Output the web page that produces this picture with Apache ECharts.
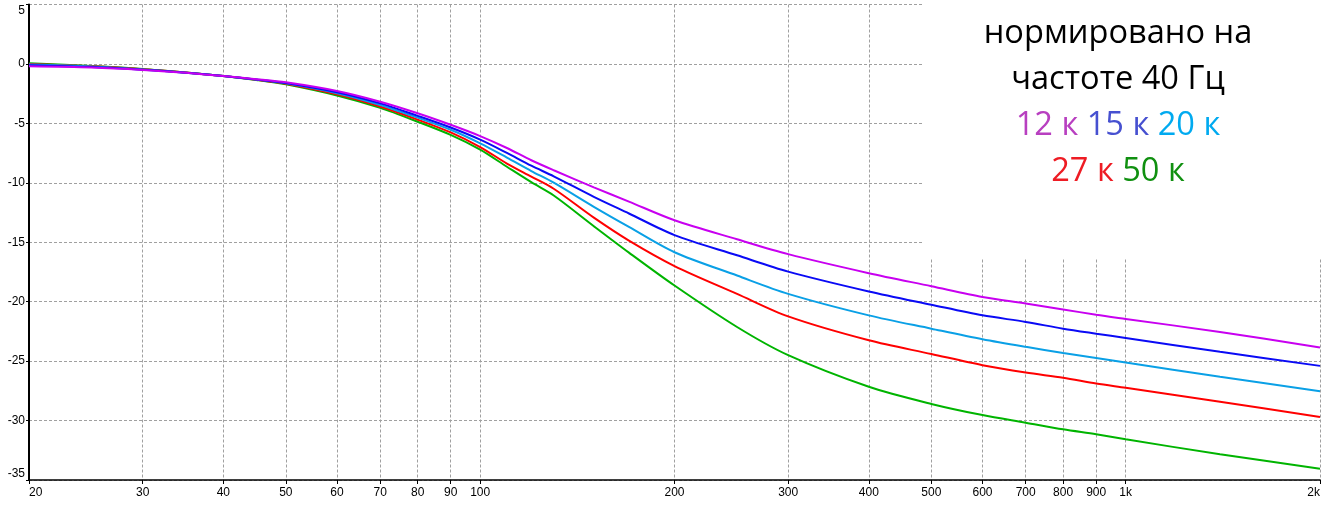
<!DOCTYPE html>
<html><head><meta charset="utf-8">
<script src="https://cdn.jsdelivr.net/npm/echarts@6/dist/echarts.min.js"></script>
<style>html,body{margin:0;padding:0;background:#fff}#c{width:1323px;height:506px}</style>
</head><body><div id="c"></div>
<script>
const freqs = [20, 25, 30, 35, 40, 45, 50, 60, 70, 80, 90, 100, 110, 120, 130, 150, 170, 200, 250, 300, 400, 500, 600, 700, 800, 900, 1000, 1400, 2000];
const s12k = [-0.2, -0.3, -0.5, -0.75, -1.02, -1.28, -1.55, -2.28, -3.18, -4.15, -5.12, -6.07, -7.07, -8.1, -8.94, -10.38, -11.58, -13.15, -14.75, -16.0, -17.6, -18.7, -19.6, -20.15, -20.65, -21.1, -21.45, -22.55, -23.85];
const s15k = [-0.1, -0.25, -0.48, -0.74, -1.02, -1.3, -1.6, -2.38, -3.32, -4.37, -5.35, -6.37, -7.49, -8.56, -9.45, -11.18, -12.58, -14.4, -16.1, -17.47, -19.14, -20.26, -21.15, -21.7, -22.27, -22.69, -23.05, -24.22, -25.4];
const s20k = [-0.05, -0.22, -0.47, -0.74, -1.02, -1.32, -1.63, -2.46, -3.45, -4.52, -5.54, -6.68, -7.88, -9.01, -9.99, -12.02, -13.71, -15.84, -17.8, -19.34, -21.15, -22.27, -23.16, -23.8, -24.31, -24.73, -25.12, -26.32, -27.53];
const s27k = [0.0, -0.2, -0.45, -0.73, -1.02, -1.33, -1.66, -2.55, -3.58, -4.68, -5.76, -6.99, -8.38, -9.48, -10.5, -12.93, -14.86, -17.0, -19.34, -21.24, -23.25, -24.4, -25.34, -25.96, -26.4, -26.88, -27.24, -28.42, -29.7];
const s50k = [0.05, -0.18, -0.42, -0.72, -1.02, -1.35, -1.72, -2.66, -3.7, -4.86, -5.97, -7.21, -8.65, -9.95, -11.07, -13.65, -15.87, -18.64, -22.13, -24.5, -27.16, -28.6, -29.54, -30.18, -30.74, -31.16, -31.58, -32.83, -34.05];
const xTickValues = [20, 30, 40, 50, 60, 70, 80, 90, 100, 200, 300, 400, 500, 600, 700, 800, 900, 1000, 2000];
const xTickLabels = ['20', '30', '40', '50', '60', '70', '80', '90', '100', '200', '300', '400', '500', '600', '700', '800', '900', '1k', '2k'];
const seriesNames = ['50 к', '27 к', '20 к', '15 к', '12 к'];
const seriesData = [s50k, s27k, s20k, s15k, s12k];
const seriesColors = ['#00B400', '#FF0000', '#0AA0E6', '#0A0AF5', '#C800F0'];

const chart = echarts.init(document.getElementById('c'), null, {renderer: 'canvas'});
const axisFont = 'Liberation Sans';
const gridStyle = {color: '#A0A0A0', width: 1, type: [3, 2]};
const richColor = (c) => ({fill: c, fontFamily: 'Open Sans', fontSize: 32.6, lineHeight: 46});
const option = {
  animation: false,
  backgroundColor: '#fff',
  grid: {left: 29, right: 1, top: 4.5, bottom: 26, containLabel: false},
  xAxis: {
    type: 'log', logBase: 10, min: 20, max: 2000,
    axisLine: {show: true, onZero: false, lineStyle: {color: '#000', width: 1.5}},
    axisTick: {show: true, length: 4, customValues: xTickValues, lineStyle: {color: '#000', width: 1}},
    axisLabel: {
      customValues: xTickValues,
      formatter: function (v) { const i = xTickValues.findIndex(t => Math.abs(t - v) < 1e-6 * t); return i >= 0 ? xTickLabels[i] : ''; },
      fontFamily: axisFont, fontSize: 12, color: '#000', margin: 7,
      alignMinLabel: 'left', alignMaxLabel: 'right'
    },
    splitLine: {show: true, lineStyle: gridStyle},
    minorTick: {show: false}, minorSplitLine: {show: false}
  },
  yAxis: {
    type: 'value', min: -35, max: 5, interval: 5,
    axisLine: {show: true, onZero: false, lineStyle: {color: '#000', width: 2}},
    axisTick: {show: true, length: 3, lineStyle: {color: '#000'}},
    axisLabel: {fontFamily: axisFont, fontSize: 12, color: '#000', margin: 4,
      verticalAlignMinLabel: 'bottom', verticalAlignMaxLabel: 'top'},
    splitLine: {show: true, lineStyle: gridStyle}
  },
  series: seriesNames.map((n, k) => ({
    name: n, type: 'line', showSymbol: false, smooth: 0.3,
    data: freqs.map((f, i) => [f, seriesData[k][i]]),
    lineStyle: {color: seriesColors[k], width: 2},
    itemStyle: {color: seriesColors[k]},
    z: 2 + k
  })),
  graphic: [
    {type: 'rect', z: 100, shape: {x: 924, y: 0, width: 399, height: 258}, style: {fill: '#fff'}},
    {type: 'text', z: 101, style: {
      x: 1118, y: 11, align: 'center', verticalAlign: 'top',
      text: 'нормировано на\nчастоте 40 Гц\n{a|12 к} {b|15 к} {c|20 к}\n{d|27 к} {e|50 к}',
      fontFamily: 'Open Sans', fontSize: 32.6, lineHeight: 46, fill: '#000',
      rich: {
        a: richColor('#B83FC0'),
        b: richColor('#4650D0'),
        c: richColor('#00AAF0'),
        d: richColor('#EE1C24'),
        e: richColor('#109010')
      }
    }}
  ]
};
chart.setOption(option);
</script></body></html>
